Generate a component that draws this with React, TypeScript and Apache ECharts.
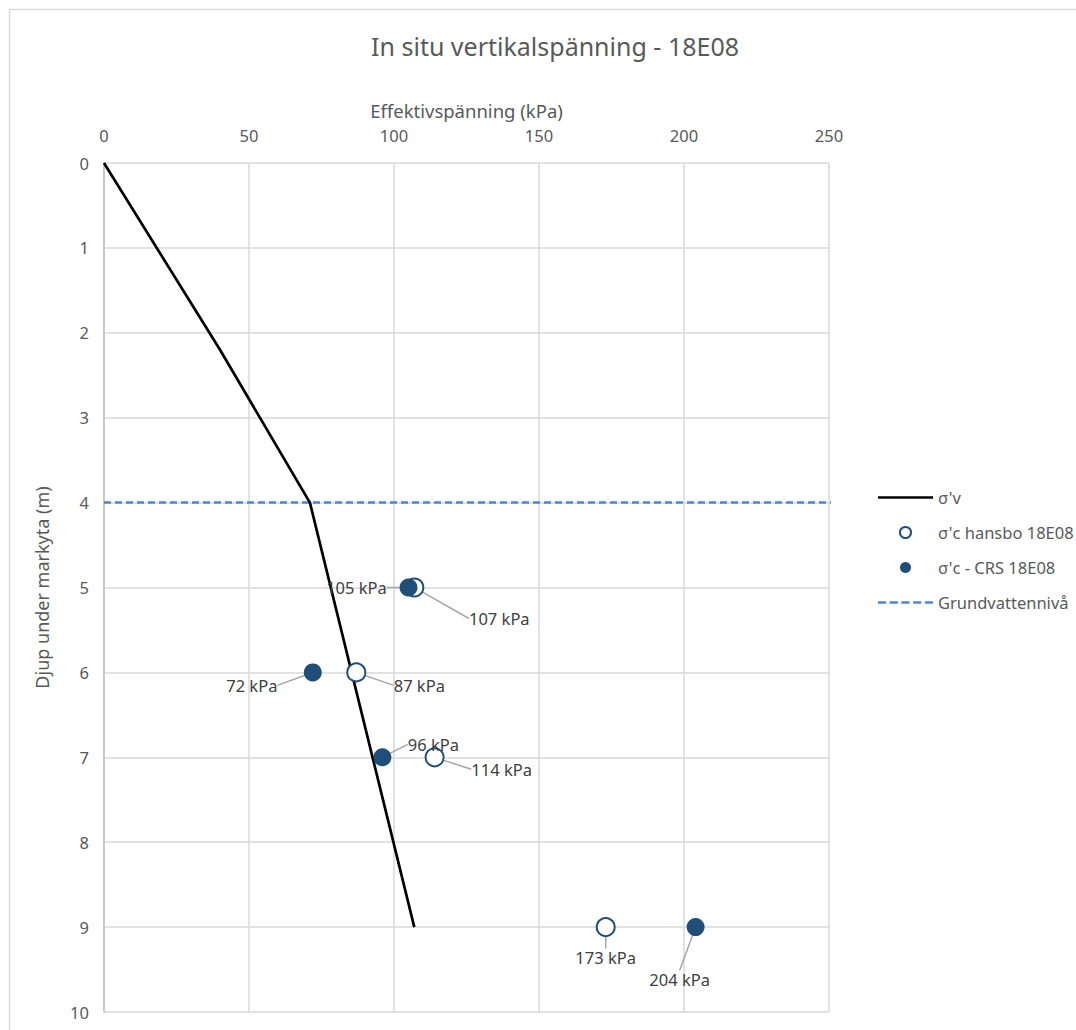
import React, { useEffect, useRef } from "react";
import * as echarts from "echarts";

const sigmaV: [number, number][] = [
  [0, 0],
  [40, 2.2],
  [71, 4],
  [107, 9],
];
const hansbo: [number, number][] = [
  [107, 5],
  [87, 6],
  [114, 7],
  [173, 9],
];
const crs: [number, number][] = [
  [105, 5],
  [72, 6],
  [96, 7],
  [204, 9],
];
const groundwater: [number, number][] = [
  [0, 4],
  [340, 4],
];
const hansboLabelOffsets: [number, number][] = [
  [85, 31],
  [63, 13],
  [67, 12],
  [0, 30],
];
const crsLabelOffsets: [number, number][] = [
  [-52, 0],
  [-61, 13],
  [51, -13],
  [-16, 52],
];

const FONT = "Noto Sans";
const TXT = "#595959";

export default function App() {
  const ref = useRef<HTMLDivElement>(null);
  useEffect(() => {
    const chart = echarts.init(ref.current!, null, { renderer: "svg" });
    const labelStyle = {
      show: true,
      position: "inside" as const,
      formatter: (p: any) => `${p.value[0]} kPa`,
      color: "#404040",
      fontSize: 16.5,
      fontFamily: FONT,
    };
    chart.setOption({
      animation: false,
      backgroundColor: "#fff",
      textStyle: { fontFamily: FONT },
      graphic: [
        {
          type: "rect",
          shape: { x: 9.5, y: 9.5, width: 1200, height: 1200 },
          style: { fill: "none", stroke: "#d9d9d9", lineWidth: 1.5 },
          silent: true,
          z: -10,
        },
      ],
      title: {
        text: "In situ vertikalspänning - 18E08",
        left: 550,
        top: 28,
        textAlign: "center",
        textStyle: { color: TXT, fontSize: 25, fontWeight: "normal", fontFamily: FONT },
      },
      legend: {
        orient: "vertical",
        left: 873,
        top: 484,
        itemWidth: 55,
        itemHeight: 11,
        itemGap: 18,
        textStyle: { color: TXT, fontSize: 16.5, fontFamily: FONT },
        data: [
          { name: "σ'v", icon: "path://M0,0H55V2.5H0Z" },
          { name: "σ'c hansbo 18E08" },
          { name: "σ'c - CRS 18E08" },
          {
            name: "Grundvattennivå",
            icon:
              "path://M0,0H8V2.5H0Z M11.5,0H19.5V2.5H11.5Z M23,0H31V2.5H23Z M34.5,0H42.5V2.5H34.5Z M46,0H54V2.5H46Z",
          },
        ],
      },
      grid: { left: 104, top: 163, right: 247, bottom: 18 },
      xAxis: {
        type: "value",
        position: "top",
        min: 0,
        max: 250,
        interval: 50,
        name: "Effektivspänning (kPa)",
        nameLocation: "middle",
        nameGap: 43,
        nameTextStyle: { color: TXT, fontSize: 18.5, fontFamily: FONT },
        axisLine: { show: false },
        axisTick: { show: false },
        axisLabel: { color: TXT, fontSize: 16.5, margin: 19, fontFamily: FONT },
        splitLine: { show: true, lineStyle: { color: "#d9d9d9", width: 1.5 } },
      },
      yAxis: {
        type: "value",
        inverse: true,
        min: 0,
        max: 10,
        interval: 1,
        name: "Djup under markyta (m)",
        nameLocation: "middle",
        nameGap: 53,
        nameRotate: 90,
        nameTextStyle: { color: TXT, fontSize: 18, fontFamily: FONT },
        axisLine: { show: true, lineStyle: { color: "#bfbfbf", width: 1.5 } },
        axisTick: { show: false },
        axisLabel: { color: TXT, fontSize: 16.5, margin: 15, fontFamily: FONT },
        splitLine: { show: true, lineStyle: { color: "#d9d9d9", width: 1.5 } },
      },
      series: [
        {
          name: "σ'v",
          type: "line",
          data: sigmaV,
          showSymbol: false,
          symbol: "none",
          lineStyle: { color: "#000", width: 2.7 },
          itemStyle: { color: "#000" },
          z: 3,
        },
        {
          name: "σ'c hansbo 18E08",
          type: "scatter",
          data: hansbo,
          symbolSize: 18,
          itemStyle: { color: "#fff", borderColor: "#1f4e79", borderWidth: 2, opacity: 1 },
          label: labelStyle,
          labelLine: { show: true, lineStyle: { color: "#a6a6a6", width: 1.5 } },
          labelLayout: (p: any) => {
            const o = hansboLabelOffsets[p.dataIndex];
            return { dx: o[0], dy: o[1] };
          },
          z: 4,
        },
        {
          name: "σ'c - CRS 18E08",
          type: "scatter",
          data: crs,
          symbolSize: 18,
          itemStyle: { color: "#1f4e79", opacity: 1 },
          label: labelStyle,
          labelLine: { show: true, lineStyle: { color: "#a6a6a6", width: 1.5 } },
          labelLayout: (p: any) => {
            const o = crsLabelOffsets[p.dataIndex];
            return { dx: o[0], dy: o[1] };
          },
          z: 5,
        },
        {
          name: "Grundvattennivå",
          type: "line",
          data: groundwater,
          showSymbol: false,
          symbol: "none",
          clip: false,
          lineStyle: { color: "#4a86dc", width: 2.5, type: [7, 4] },
          itemStyle: { color: "#4a86dc" },
          z: 2,
        },
      ],
    });
    return () => chart.dispose();
  }, []);
  return (
    <div
      ref={ref}
      style={{ position: "absolute", left: 0, top: 0, width: 1076, height: 1030 }}
    />
  );
}
